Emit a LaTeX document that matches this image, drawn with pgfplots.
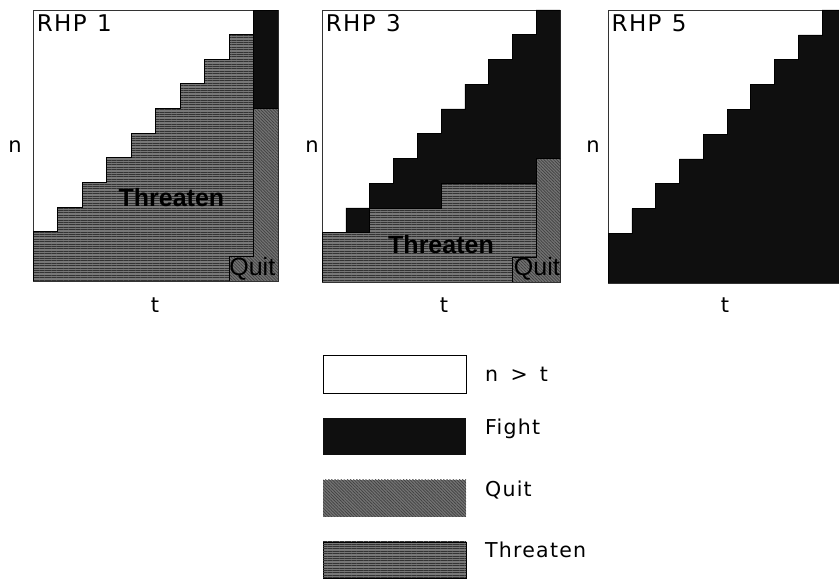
\documentclass[border=0pt]{standalone}
\usepackage{pgfplots}
\pgfplotsset{compat=1.18}
\usepackage{fontspec}
\setmainfont{DejaVu Sans}[LetterSpace=6]
\newfontfamily\lab{Liberation Sans}
\usetikzlibrary{patterns.meta}
\definecolor{thr}{gray}{0.47}
\definecolor{qui}{gray}{0.45}
\definecolor{fgt}{gray}{0.06}
\tikzset{
  threaten/.style={fill=thr, postaction={pattern={Lines[angle=0,distance=2.4pt,line width=0.9pt]}, pattern color=black!80}},
  quit/.style={fill=qui, postaction={pattern={Lines[angle=-45,distance=2.2pt,line width=0.7pt]}, pattern color=black!75}},
  fight/.style={fill=fgt},
}
\pgfplotsset{panel/.style={scale only axis, anchor=south west,
  xmin=0, xmax=10, ymin=0, ymax=11, xtick=\empty, ytick=\empty,
  axis line style={line width=0.8pt, black!80}, clip=true}}
\begin{document}
\begin{tikzpicture}
\useasboundingbox (0,0) rectangle (839pt,580pt);
% ---------- RHP 1
\begin{axis}[panel, at={(33pt,299pt)}, width=245pt, height=271pt]
\addplot[threaten, draw=black, line width=0.9pt] coordinates {
 (0,0) (8,0) (8,1) (9,1) (9,10) (8,10) (8,9) (7,9) (7,8) (6,8) (6,7) (5,7) (5,6)
 (4,6) (4,5) (3,5) (3,4) (2,4) (2,3) (1,3) (1,2) (0,2)} -- cycle;
\addplot[quit, draw=black, line width=0.6pt] coordinates {
 (8,0) (10,0) (10,7) (9,7) (9,1) (8,1)} -- cycle;
\addplot[fight, draw=black, line width=0.6pt] coordinates {
 (9,7) (10,7) (10,11) (9,11)} -- cycle;
\node[anchor=north west, inner sep=0pt, font=\fontsize{23}{23}\selectfont] at (axis description cs:0.015,0.985) {RHP\hspace{0.45em}1};
\node[font=\lab\fontsize{25}{25}\selectfont\bfseries, text=black] at (axis cs:5.65,3.38) {Threaten};
\node[font=\lab\fontsize{25}{25}\selectfont, text=black] at (axis cs:8.95,0.5) {Quit};
\end{axis}
% ---------- RHP 3
\begin{axis}[panel, at={(322pt,298pt)}, width=238pt, height=272pt]
\addplot[threaten, draw=black, line width=0.9pt] coordinates {
 (0,0) (8,0) (8,1) (9,1) (9,4) (5,4) (5,3) (2,3) (2,2) (0,2)} -- cycle;
\addplot[quit, draw=black, line width=0.6pt] coordinates {
 (8,0) (10,0) (10,5) (9,5) (9,1) (8,1)} -- cycle;
\addplot[fight, draw=black, line width=0.6pt] coordinates {
 (1,2) (2,2) (2,3) (5,3) (5,4) (9,4) (9,5) (10,5) (10,11) (9,11) (9,10) (8,10)
 (8,9) (7,9) (7,8) (6,8) (6,7) (5,7) (5,6) (4,6) (4,5) (3,5) (3,4) (2,4) (2,3) (1,3)} -- cycle;
\node[anchor=north west, inner sep=0pt, font=\fontsize{23}{23}\selectfont] at (axis description cs:0.015,0.985) {RHP\hspace{0.45em}3};
\node[font=\lab\fontsize{25}{25}\selectfont\bfseries, text=black] at (axis cs:5.0,1.5) {Threaten};
\node[font=\lab\fontsize{25}{25}\selectfont, text=black] at (axis cs:9.03,0.52) {Quit};
\end{axis}
% ---------- RHP 5
\begin{axis}[panel, at={(608pt,297pt)}, width=231pt, height=273pt, xmax=9.706]
\addplot[fight, draw=black, line width=0.6pt] coordinates {
 (0,0) (10,0) (10,11) (9,11) (9,10) (8,10) (8,9) (7,9) (7,8) (6,8) (6,7) (5,7)
 (5,6) (4,6) (4,5) (3,5) (3,4) (2,4) (2,3) (1,3) (1,2) (0,2)} -- cycle;
\node[anchor=north west, inner sep=0pt, font=\fontsize{23}{23}\selectfont] at (axis description cs:0.015,0.985) {RHP\hspace{0.45em}5};
\end{axis}
% ---------- axis labels
\begin{scope}[every node/.style={font=\fontsize{21}{21}\selectfont, inner sep=0pt}]
\node[anchor=base] at (15pt,427pt) {n};
\node[anchor=base] at (312pt,427pt) {n};
\node[anchor=base] at (593pt,427pt) {n};
\node[anchor=base] at (155pt,267pt) {t};
\node[anchor=base] at (444pt,267pt) {t};
\node[anchor=base] at (725pt,267pt) {t};
\end{scope}
% ---------- legend
\draw[line width=0.8pt, fill=white] (323pt,187pt) rectangle (466pt,225pt);
\path[fight] (323pt,125pt) rectangle (466pt,162pt);
\path[quit] (323pt,63pt) rectangle (466pt,100pt);
\path[threaten, draw=black, line width=0.9pt] (323pt,2pt) rectangle (466pt,38pt);
\begin{scope}[every node/.style={font=\fontsize{20.5}{21}\selectfont, inner sep=0pt, anchor=base west}]
\node at (485pt,198pt) {n\hspace{0.6em}>\hspace{0.6em}t};
\node at (485pt,145pt) {Fight};
\node at (485pt,83pt) {Quit};
\node at (485pt,22pt) {Threaten};
\end{scope}
\end{tikzpicture}
\end{document}
